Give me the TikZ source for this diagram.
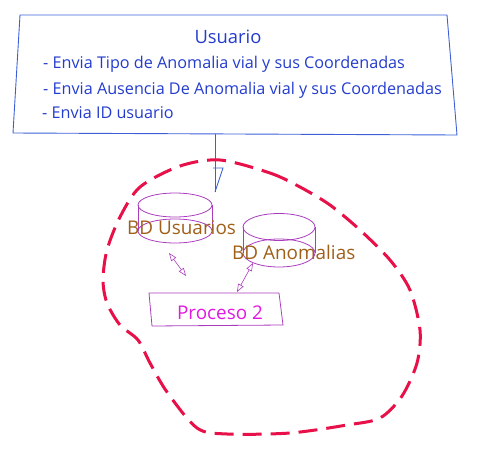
\documentclass[tikz,border=0pt]{standalone}
\usepackage{fontspec}
\setmainfont{Open Sans}
\usetikzlibrary{arrows.meta}
\definecolor{ublue}{RGB}{35,60,205}
\definecolor{lblue}{RGB}{60,95,215}
\definecolor{bred}{RGB}{232,16,72}
\definecolor{dbpurple}{RGB}{170,60,190}
\definecolor{dbbrown}{RGB}{160,95,25}
\definecolor{pmag}{RGB}{225,25,225}
\tikzset{
  usrline/.style={anchor=west,inner sep=0pt,text=ublue,font=\fontsize{16.2}{18}\selectfont},
  dblabel/.style={anchor=west,inner sep=0pt,text=dbbrown,font=\fontsize{18.9}{21}\selectfont},
  dbline/.style={draw=dbpurple,line width=0.8pt},
  dbarrow/.style={draw=dbpurple,line width=0.6pt,{Triangle[open,length=8pt,width=6pt]}-{Triangle[open,length=8pt,width=6pt]}},
  blob/.style={draw=bred,line width=3pt,dash pattern=on 19pt off 9pt},
}
\begin{document}
\begin{tikzpicture}[x=1pt,y=-1pt]
\useasboundingbox (0,0) rectangle (477,453);
% Usuario box
\draw[lblue,line width=0.9pt] (20,15) -- (447,15) -- (457,135) -- (13,133) -- cycle;
\node[inner sep=0pt,text=ublue,font=\fontsize{18.4}{20}\selectfont] (usr) at (228,37) {Usuario};
\node[usrline] (l1) at (43,64) {- Envia Tipo de Anomalia vial y sus Coordenadas};
\node[usrline] (l2) at (43,90) {- Envia Ausencia De Anomalia vial y sus Coordenadas};
\node[usrline] (l3) at (42,113) {- Envia ID usuario};
% connector
\coordinate (ua) at (215,134);
\coordinate (ub) at (215,192);
\draw[lblue,line width=0.9pt] (ua) -- (ub);
\draw[lblue,line width=0.9pt] (213,168) -- (223,168) -- (ub);
% blob
\draw[blob] plot[smooth cycle,tension=0.5] coordinates {
 (220,160) (270,173) (300,187) (330,205) (360,230) (390,260) (410,290) (420,330)
 (417,363) (402,396) (380,418) (347,425) (290,433) (227,434) (197,428)
 (167,392) (150,363) (138,340) (120,325) (107,303) (103,280)
 (107,250) (120,217) (140,187) (180,166)};
% cylinder 1
\draw[dbline] (175,205) ellipse (37 and 12);
\draw[dbline] (175,231) ellipse (37 and 12);
\draw[dbline] (138,205) -- (138,231) (212,205) -- (212,231);
\node[dblabel] (dbu) at (127,228) {BD Usuarios};
% cylinder 2
\draw[dbline] (279,227) ellipse (36 and 13.5);
\draw[dbline] (279,253) ellipse (36 and 14);
\draw[dbline] (243,227) -- (243,253) (315,227) -- (315,253);
\node[dblabel] (dba) at (232,252) {BD Anomalias};
% proceso
\draw[dbline] (149,293) -- (279,293) -- (283,325) -- (152,326) -- cycle;
\node[inner sep=0pt,text=pmag,font=\fontsize{18.9}{21}\selectfont] (p2) at (220,313) {Proceso 2};
% arrows
\coordinate (a1) at (169,253);
\coordinate (a2) at (186,276);
\coordinate (b1) at (253,263);
\coordinate (b2) at (237,292);
\draw[dbarrow] (a1) -- (a2);
\draw[dbarrow] (b1) -- (b2);
\end{tikzpicture}
\end{document}
